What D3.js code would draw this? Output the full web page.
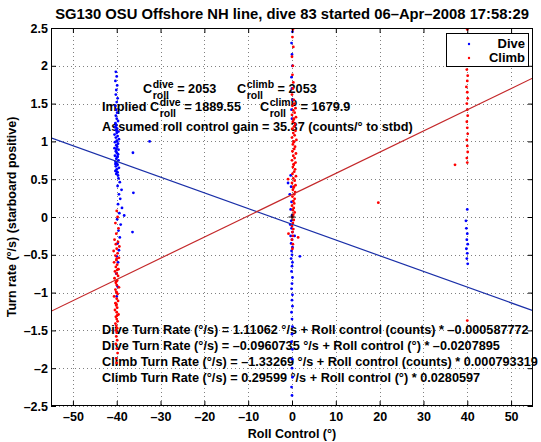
<!DOCTYPE html>
<html><head><meta charset="utf-8">
<script src="https://cdn.jsdelivr.net/npm/d3@7"></script>
<style>
body{margin:0;background:#fff;}
svg{display:block;}
text{font-family:"Liberation Sans",Arial,Helvetica,sans-serif;font-weight:bold;fill:#000;}
</style></head>
<body>
<svg id="chart" width="541" height="442"></svg>
<script>
// ---------- data ----------
const title = "SG130 OSU Offshore NH line, dive 83 started 06\u2013Apr\u20132008 17:58:29";
const xLabel = "Roll Control (\u00b0)";
const yLabel = "Turn rate (\u00b0/s) (starboard positive)";
const xTicks = [-50,-40,-30,-20,-10,0,10,20,30,40,50];
const yTicks = [-2.5,-2,-1.5,-1,-0.5,0,0.5,1,1.5,2,2.5];
const seriesNames = ["Dive","Climb"];
// fit coefficients (intercept, slope per degree)
const diveFit = [-0.0960736, -0.0207895];
const climbFit = [0.29599, 0.0280597];

// [roll control (deg), turn rate (deg/s)]
const dive = [
 [-40.2,1.92],[-40.0,1.86],[-40.3,1.8],[-39.9,1.74],[-40.1,1.68],[-40.2,1.62],[-39.8,1.57],[-40.0,1.52],[-40.3,1.47],[-40.1,1.42],[-39.9,1.38],[-40.2,1.34],[-40.0,1.30],[-39.7,1.27],[-40.3,1.24],[-40.1,1.21],
 [-40.4,1.19],[-39.9,1.17],[-40.2,1.15],[-39.6,1.13],[-40.0,1.11],[-40.5,1.09],[-39.8,1.07],[-40.2,1.05],[-39.5,1.03],[-40.0,1.01],[-40.4,0.99],[-39.7,0.97],[-40.1,0.95],[-39.9,0.93],[-40.5,0.91],[-39.6,0.89],[-40.2,0.87],[-40.0,0.85],[-39.7,0.83],[-40.4,0.81],[-39.9,0.79],[-40.1,0.77],[-39.6,0.75],[-40.3,0.73],[-40.0,0.71],[-39.8,0.69],[-40.2,0.67],[-39.5,0.65],[-40.0,0.63],[-40.3,0.61],[-39.8,0.59],[-40.1,0.57],[-39.7,0.55],[-40.0,1.14],[-39.9,1.0],[-40.1,0.9],[-39.8,0.8],[-40.3,0.7],[-40.0,0.6],
 [-39.6,0.51],[-39.3,0.46],[-39.8,0.41],[-38.9,0.36],[-39.5,0.30],[-39.2,0.24],[-39.7,0.17],[-38.8,0.12],[-39.4,0.05],[-39.9,-0.03],[-39.1,-0.1],[-39.6,-0.18],[-39.3,-0.27],[-39.8,-0.35],[-39.5,-0.44],[-40.0,-0.52],[-39.7,-0.6],[-40.1,-0.75],[-39.8,-0.92],[-40.0,-1.05],
 [-36.3,0.85],[-36.2,0.32],[-36.4,-0.2],[-32.5,1.0],[-38.3,0.02],
 [0.1,2.45],[-0.1,2.3],[0.0,2.15],[0.1,2.0],[-0.1,1.85],[0.0,1.7],[0.1,1.55],[-0.1,1.42],[0.0,1.3],
 [-0.3,0.55],[-0.2,0.4],[-0.5,0.3],[-0.1,0.2],[-0.3,0.1],[0.0,0.02],[-0.2,-0.05],[-0.4,-0.1],[-0.1,-0.15],[0.1,-0.2],[-0.3,-0.25],[0.0,-0.3],[-0.2,-0.35],[0.1,-0.4],[-0.1,-0.45],[0.0,-0.5],[-0.2,-0.55],[0.1,-0.6],[0.0,-0.65],[-0.1,-0.72],[0.1,-0.8],[0.0,-0.88],[-0.1,-0.95],[0.1,-1.03],[0.0,-1.1],[0.1,-1.18],[-0.1,-1.26],[0.0,-1.35],[0.1,-1.45],[0.0,-1.55],[-0.1,-1.65],[0.1,-1.75],[0.0,-1.88],[0.0,-2.0],[0.1,-2.12],[-0.1,-2.25],[0.0,-2.36],
 [1.8,-0.52],[-0.9,0.45],[0.6,-0.25],
 [39.8,-0.15],[40.0,-0.22],[39.9,-0.3],[40.1,-0.36],[39.8,-0.42],[40.0,-0.48],[39.9,-0.55],[40.1,-0.62],[39.7,-0.05],[40.0,0.1]
];
const climb = [
 [-40.0,0.08],[-39.8,0.0],[-40.3,-0.08],[-39.6,-0.15],[-40.1,-0.22],
 [-40.5,-0.3],[-39.7,-0.33],[-40.2,-0.36],[-39.4,-0.39],[-40.0,-0.42],[-40.7,-0.45],[-39.8,-0.48],[-40.3,-0.51],[-39.5,-0.54],[-40.1,-0.57],[-40.6,-0.6],[-39.9,-0.63],[-40.2,-0.66],[-39.6,-0.69],[-40.4,-0.72],[-40.0,-0.75],[-39.7,-0.78],[-40.5,-0.81],[-39.9,-0.84],[-40.2,-0.87],[-40.0,-0.9],[-39.5,-0.93],[-40.3,-0.96],[-40.1,-0.99],[-39.8,-1.02],[-40.6,-1.05],[-40.0,-1.08],[-39.7,-1.11],[-40.3,-1.14],[-40.1,-1.17],[-39.9,-1.2],[-40.4,-1.23],[-40.0,-1.26],[-39.6,-1.29],[-40.2,-1.32],[-40.0,-1.35],[-39.8,-1.38],[-40.3,-1.41],[-40.1,-1.44],[-39.9,-1.47],[-40.2,-1.5],[-40.0,-1.53],[-40.0,-0.55],[-39.9,-0.7],[-40.1,-0.85],[-40.0,-1.0],[-40.1,-1.15],[-39.9,-1.3],
 [-40.1,-1.58],[-39.9,-1.63],[-40.2,-1.68],[-40.0,-1.74],[-39.8,-1.8],[-40.1,-1.87],[-40.0,-1.93],
 [0.2,2.48],[0.1,2.38],[0.3,2.25],[0.0,2.12],[0.2,2.0],[0.1,1.88],[0.3,1.78],[0.2,1.7],[0.0,1.62],[0.4,1.55],
 [0.5,1.5],[0.1,1.47],[0.8,1.44],[0.3,1.41],[0.6,1.38],[0.0,1.35],[0.9,1.32],[0.4,1.29],[0.2,1.26],[0.7,1.23],[0.5,1.2],[0.1,1.17],[0.8,1.14],[0.3,1.11],[0.6,1.08],[0.0,1.05],[1.0,1.02],[0.4,0.99],[0.2,0.96],[0.7,0.93],[0.5,0.9],[0.1,0.87],[0.9,0.84],[0.3,0.81],[0.6,0.78],[0.0,0.75],[0.8,0.72],[0.4,0.69],[0.2,0.66],[0.7,0.63],[0.5,0.6],[0.1,0.57],[0.9,0.54],[0.3,0.51],[0.6,0.48],[0.0,0.45],[0.8,0.42],[0.4,0.39],[0.2,0.36],[0.7,0.33],[0.5,0.3],[0.1,0.27],[0.6,0.24],[0.3,0.21],[0.5,0.18],[0.0,0.15],[0.4,0.12],[0.2,0.09],[0.6,0.06],[0.3,0.03],[0.1,0.0],[0.4,-0.04],[0.2,-0.08],[0.0,-0.12],[0.3,-0.16],[0.1,-0.2],[0.2,-0.25],[0.0,-0.3],[0.2,-0.36],[0.1,-0.42],
 [0.4,1.3],[0.4,1.0],[0.4,0.7],[0.35,0.4],
 [1.4,-0.27],[-0.9,0.5],[-0.8,-0.22],
 [40.0,2.48],[39.9,2.4],[40.1,2.32],[40.0,2.25],[39.8,2.18],[40.1,2.1],[40.0,2.02],[39.9,1.95],[40.1,1.87],[40.0,1.8],[39.8,1.72],[40.0,1.65],[40.1,1.57],[39.9,1.5],[40.0,1.42],[40.1,1.34],[39.9,1.26],[40.0,1.18],[40.1,1.1],[39.9,1.02],[40.0,0.94],[40.1,0.86],[39.9,0.78],[40.0,0.72],
 [37.2,0.69],[19.7,0.19],[40.0,-1.37]
];
const bottomLines = [
 "Dive Turn Rate (\u00b0/s) = 1.11062 \u00b0/s + Roll control (counts) * \u20130.000587772",
 "Dive Turn Rate (\u00b0/s) = \u20130.0960735 \u00b0/s + Roll control (\u00b0) * \u20130.0207895",
 "Climb Turn Rate (\u00b0/s) = \u20131.33269 \u00b0/s + Roll control (counts) * 0.000793319",
 "Climb Turn Rate (\u00b0/s) = 0.29599 \u00b0/s + Roll control (\u00b0) * 0.0280597"
];

// ---------- layout ----------
const L = 51, R = 533, T = 28, B = 406;
const svg = d3.select("#chart");
const x = d3.scaleLinear().domain([-55,55]).range([L,R]);
const y = d3.scaleLinear().domain([-2.5,2.5]).range([B,T]);
const fmt = v => (v<0 ? "\u2013" : "") + Math.abs(v);
const blue = "#0000ff", red = "#ff0000";
const FS = 12.7, SS = 10.5;

// grid
const g = svg.append("g");
g.selectAll(".gx").data(xTicks).enter().append("line")
 .attr("x1",d=>Math.round(x(d))+0.5).attr("x2",d=>Math.round(x(d))+0.5).attr("y1",T).attr("y2",B)
 .attr("stroke","#808080").attr("stroke-dasharray","1,3");
g.selectAll(".gy").data(yTicks).enter().append("line")
 .attr("y1",d=>Math.round(y(d))+0.5).attr("y2",d=>Math.round(y(d))+0.5).attr("x1",L).attr("x2",R)
 .attr("stroke","#808080").attr("stroke-dasharray","1,3");

// title & labels
svg.append("text").attr("x",(L+R)/2).attr("y",19).attr("text-anchor","middle").attr("font-size",14.8).text(title);
svg.append("text").attr("x",(L+R)/2).attr("y",438).attr("text-anchor","middle").attr("font-size",12.5).text(xLabel);
svg.append("text").attr("transform","translate(16,"+((T+B)/2)+") rotate(-90)").attr("text-anchor","middle").attr("font-size",12.5).text(yLabel);

// axes
const xAxisB = d3.axisBottom(x).tickValues(xTicks).tickFormat(fmt).tickSizeInner(-5).tickSizeOuter(0).tickPadding(6);
const xAxisT = d3.axisTop(x).tickValues(xTicks).tickFormat("").tickSizeInner(-5).tickSizeOuter(0);
const yAxisL = d3.axisLeft(y).tickValues(yTicks).tickFormat(fmt).tickSizeInner(-5).tickSizeOuter(0).tickPadding(3);
const yAxisR = d3.axisRight(y).tickValues(yTicks).tickFormat("").tickSizeInner(-5).tickSizeOuter(0);
function styleAxis(sel){
  sel.select(".domain").remove();
  sel.selectAll("line").attr("stroke","#000");
  sel.selectAll("text").attr("font-size",12.5).attr("font-family","'Liberation Sans',Arial,sans-serif").attr("font-weight","bold").attr("fill","#000");
}

// annotation text (drawn under data dots)
const ann = svg.append("g").attr("font-size",FS);
function cRoll(gx, baseline, sup, rest){
  const t = ann.append("text").attr("x",gx).attr("y",baseline).text("C");
  const cw = t.node().getComputedTextLength();
  const s1 = ann.append("text").attr("x",gx+cw+0.5).attr("y",baseline-5.5).attr("font-size",SS).text(sup);
  const s2 = ann.append("text").attr("x",gx+cw+0.5).attr("y",baseline+5.5).attr("font-size",SS).text("roll");
  const w = Math.max(s1.node().getComputedTextLength(), s2.node().getComputedTextLength());
  ann.append("text").attr("x",gx+cw+0.5+w+3.5).attr("y",baseline).text("= " + rest);
}
cRoll(143, 93, "dive", "2053");
cRoll(237, 93, "climb", "2053");
ann.append("text").attr("x",102).attr("y",111).text("Implied");
cRoll(150, 111, "dive", "1889.55");
cRoll(260, 111, "climb", "1679.9");
ann.append("text").attr("x",102).attr("y",131).text("Assumed roll control gain = 35.37 (counts/\u00b0 to stbd)");
bottomLines.forEach((s,i)=>{
  ann.append("text").attr("x",102).attr("y",334+16*i).text(s);
});

// clip
svg.append("clipPath").attr("id","clip").append("rect").attr("x",L).attr("y",T).attr("width",R-L).attr("height",B-T);
const plot = svg.append("g").attr("clip-path","url(#clip)");

plot.selectAll(".dd").data(dive).enter().append("circle")
 .attr("cx",d=>x(d[0])).attr("cy",d=>y(d[1])).attr("r",1.4).attr("fill",blue);
plot.selectAll(".cd").data(climb).enter().append("circle")
 .attr("cx",d=>x(d[0])).attr("cy",d=>y(d[1])).attr("r",1.4).attr("fill",red);

// fit lines
const dom = x.domain();
const lineGen = d3.line().x(d=>x(d[0])).y(d=>y(d[1]));
plot.append("path").datum(dom.map(v=>[v, diveFit[0]+diveFit[1]*v])).attr("d",lineGen).attr("stroke","#1a2fa8").attr("stroke-width",1.2).attr("fill","none");
plot.append("path").datum(dom.map(v=>[v, climbFit[0]+climbFit[1]*v])).attr("d",lineGen).attr("stroke","#c4282a").attr("stroke-width",1.2).attr("fill","none");

// origin marker
plot.append("path").attr("d",`M${x(0)-3.5},${y(0)}h7M${x(0)},${y(0)-3.5}v7`).attr("stroke","#000").attr("stroke-width",1);

// axes drawn on top
svg.append("g").attr("transform",`translate(0,${B})`).call(xAxisB).call(styleAxis);
svg.append("g").attr("transform",`translate(0,${T})`).call(xAxisT).call(styleAxis);
svg.append("g").attr("transform",`translate(${L},0)`).call(yAxisL).call(styleAxis);
svg.append("g").attr("transform",`translate(${R},0)`).call(yAxisR).call(styleAxis);
svg.append("rect").attr("x",L+0.5).attr("y",T+0.5).attr("width",R-L-1).attr("height",B-T-1).attr("fill","none").attr("stroke","#000");

// legend
const lg = svg.append("g");
lg.append("rect").attr("x",446.5).attr("y",33.5).attr("width",82).attr("height",33).attr("fill","#fff").attr("stroke","#000");
[[blue,seriesNames[0],48],[red,seriesNames[1],62]].forEach(([c,n,yy])=>{
  lg.append("circle").attr("cx",469).attr("cy",yy-4).attr("r",1.2).attr("fill",c);
  lg.append("text").attr("x",525).attr("y",yy).attr("text-anchor","end").attr("font-size",13).text(n);
});
</script>
</body></html>
